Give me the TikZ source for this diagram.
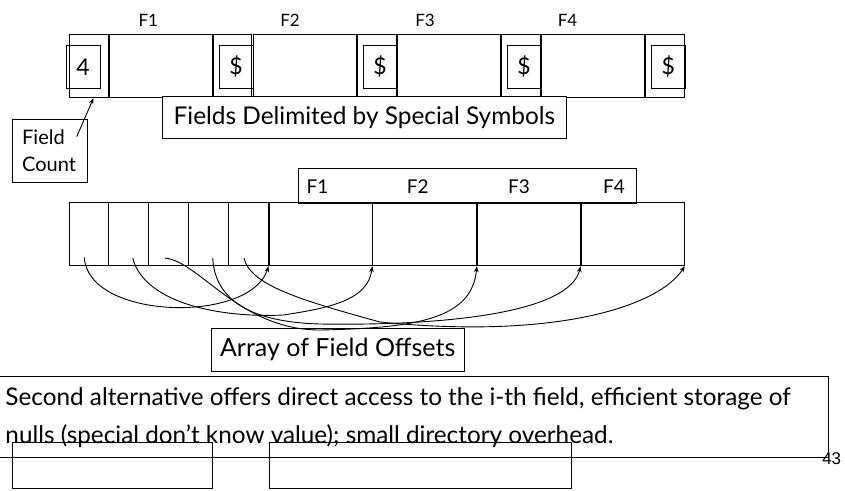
\documentclass[tikz,border=0pt]{standalone}
\usepackage{fontspec}
\setmainfont{Lato}
\newfontfamily\pagenumfont{Liberation Sans}
\usetikzlibrary{arrows.meta,calc}
\begin{document}
\begin{tikzpicture}[x=1pt,y=-1pt,line width=0.9pt,
  cell/.style={draw,inner sep=0pt,minimum height=63.4},
  sym/.style={draw,inner sep=0pt,minimum height=42.3,font=\fontsize{23}{26}\selectfont},
  offcell/.style={draw,inner sep=0pt,minimum height=63},
  lbl/.style={inner sep=0pt},
  boxlbl/.style={draw,fill=white,inner sep=0pt},
  link/.style={line width=0.9pt,-{Stealth[length=6pt,width=4.5pt]}},
  ]
\useasboundingbox (0,0) rectangle (845,490);

% ---- top record: fields delimited by special symbols
\node[cell,minimum width=39.3]  (c0) at (88.65,66) {};
\node[cell,minimum width=102.6] (c1) at (161,66) {};
\node[cell,minimum width=38]    (c2) at (232.7,66) {};
\node[cell,minimum width=103]   (c3) at (304.5,66) {};
\node[cell,minimum width=39]    (c4) at (377.2,66) {};
\node[cell,minimum width=103.2] (c5) at (449.1,66) {};
\node[cell,minimum width=38.3]  (c6) at (520.85,66) {};
\node[cell,minimum width=102.3] (c7) at (592.85,66) {};
\node[cell,minimum width=38.6]  (c8) at (665,66) {};

\node[sym,minimum width=33.7] (b0) at (83.15,66.85) {4};
\node[sym,minimum width=34.3] (b1) at (236.15,66.85) {\$};
\node[sym,minimum width=34]   (b2) at (380,66.85) {\$};
\node[sym,minimum width=34]   (b3) at (524,66.85) {\$};
\node[sym,minimum width=34.7] (b4) at (668.35,66.85) {\$};

\begin{scope}[every node/.style={lbl,font=\fontsize{17}{20}\selectfont}]
\node (tf1) at (148.3,20) {F1};
\node (tf2) at (290,20) {F2};
\node (tf3) at (425,20) {F3};
\node (tf4) at (567.5,20) {F4};
\end{scope}

\node[boxlbl,minimum width=403.3,minimum height=41.6,font=\fontsize{24.4}{28}\selectfont]
  (delim) at (364.35,117.5) {Fields Delimited by Special Symbols};

\node[draw,fill=white,anchor=north west,minimum width=75.6,minimum height=62.4,
  inner xsep=10pt,inner ysep=0pt,text width=55.6,align=left,
  font=\fontsize{20}{27}\selectfont] (fc) at (11.7,119.3) {Field\\Count};
\coordinate (fcfrom) at (76.7,136.7);
\draw[link] (fcfrom) -- ($(c0.south west)!0.62!(c0.south east)$);

% ---- second record: array of field offsets
\node[boxlbl,minimum width=337.7,minimum height=35] (hdr) at (467.15,185.8) {};
\begin{scope}[every node/.style={lbl,font=\fontsize{19}{22}\selectfont}]
\node (hf1) at (317.5,187) {F1};
\node (hf2) at (417.7,187) {F2};
\node (hf3) at (519,187) {F3};
\node (hf4) at (614,187) {F4};
\end{scope}

\node[offcell,minimum width=39.3]  (o1) at (88.65,234.2) {};
\node[offcell,minimum width=40]    (o2) at (128.3,234.2) {};
\node[offcell,minimum width=40]    (o3) at (168.3,234.2) {};
\node[offcell,minimum width=40]    (o4) at (208.3,234.2) {};
\node[offcell,minimum width=40.7]  (o5) at (248.65,234.2) {};
\node[offcell,minimum width=103.7] (f1) at (320.85,234.2) {};
\node[offcell,minimum width=104.6] (f2) at (425,234.2) {};
\node[offcell,minimum width=103.7] (f3) at (529.15,234.2) {};
\node[offcell,minimum width=103.3] (f4) at (632.65,234.2) {};
\foreach \n in {f1,f2,f3,f4} \draw[line width=1.4pt] (\n.north west) -- (\n.south west);

\node[boxlbl,minimum width=253.3,minimum height=42.7,font=\fontsize{25}{29}\selectfont]
  (arr) at (337.65,349.65) {Array of Field Offsets};

\coordinate (sA) at (84.3,257.5);
\coordinate (sB) at (132.7,258);
\coordinate (sC) at (165,258);
\coordinate (sD) at (212.7,258);
\coordinate (sE) at (244,258);

\draw[link] (sA) .. controls (88,320) and (250,324) .. (f1.south west);
\draw[link] (sB) .. controls (145,305) and (225,318) .. (283,315)
               .. controls (330,308) and (368,300) .. (f2.south west);
\draw[link] (sC) .. controls (200,262) and (240,330) .. (320,330)
               .. controls (420,328) and (472,318) .. (f3.south west);
\draw[link] (sD) .. controls (215,300) and (250,322) .. (320,324)
               .. controls (450,326) and (570,312) .. (f4.south west);
\draw[link] (sE) .. controls (250,285) and (300,300) .. (380,322)
               .. controls (560,340) and (660,305) .. (f4.south east);

% ---- bottom note
\node[draw,anchor=north east,minimum width=840,minimum height=81.6,inner sep=0pt]
  (note) at (829,375.7) {};
\node[anchor=north west,inner sep=0pt,align=left,font=\fontsize{24.3}{38}\selectfont]
  (notetext) at (5,387) {Second alternative offers direct access to the i-th field, efficient storage of\\
  nulls (special don’t know value); small directory overhead.};
\node[draw,minimum width=200,minimum height=45.8,inner sep=0pt] (s1) at (112.3,465.6) {};
\node[draw,minimum width=302.7,minimum height=45.8,inner sep=0pt] (s2) at (420.35,465.6) {};
\node[lbl,font=\pagenumfont\fontsize{17}{20}\selectfont] (pg) at (831.7,458.3) {43};
\end{tikzpicture}
\end{document}
